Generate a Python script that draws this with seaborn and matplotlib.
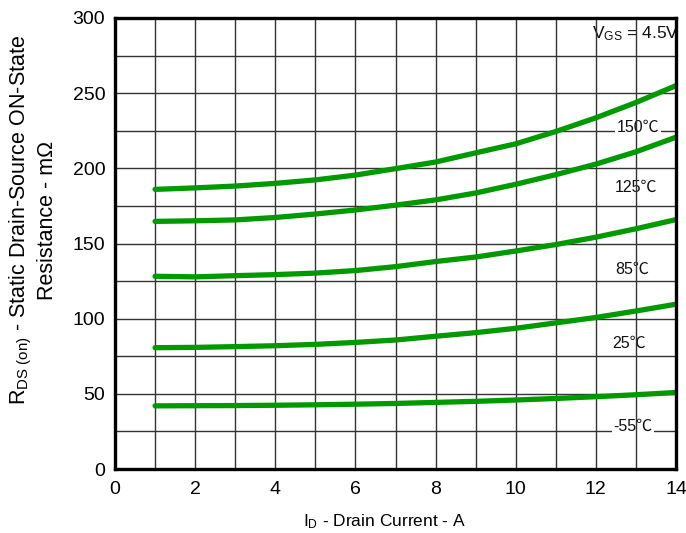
import matplotlib
matplotlib.use("Agg")
import matplotlib.pyplot as plt
import seaborn as sns
import pandas as pd
import numpy as np

# ---- data ----
drain_current = [1, 2, 3, 4, 5, 6, 7, 8, 9, 10, 11, 12, 13, 14]
r_150 = [186.0, 187.0, 188.2, 190.0, 192.3, 195.5, 199.8, 204.2, 210.3, 216.3, 224.5, 233.6, 243.8, 255.0]
r_125 = [164.7, 165.1, 165.7, 167.3, 169.6, 172.3, 175.5, 179.0, 183.6, 189.4, 195.8, 202.8, 211.0, 220.7]
r_85 = [128.2, 127.8, 128.6, 129.3, 130.3, 132.0, 134.6, 138.0, 141.0, 145.0, 149.3, 154.2, 159.8, 165.9]
r_25 = [80.7, 80.9, 81.4, 82.0, 82.9, 84.2, 85.8, 88.3, 90.7, 93.6, 97.2, 100.8, 105.1, 109.6]
r_m55 = [42.0, 42.1, 42.2, 42.4, 42.7, 43.1, 43.6, 44.3, 45.0, 45.9, 46.9, 48.1, 49.4, 50.9]
series_names = ["150℃", "125℃", "85℃", "25℃", "-55℃"]
label_x = [13.05, 13.0, 12.9, 12.83, 12.93]
label_y = [227.5, 187.4, 133.0, 83.6, 28.6]
x_ticks = [0, 2, 4, 6, 8, 10, 12, 14]
y_ticks = [0, 50, 100, 150, 200, 250, 300]

frames = []
for name, vals in zip(series_names, [r_150, r_125, r_85, r_25, r_m55]):
    frames.append(pd.DataFrame({"Id": drain_current, "R": vals, "T": name}))
df = pd.concat(frames, ignore_index=True)

sns.set_theme(style="white")
plt.rcParams["font.family"] = ["Liberation Sans", "Noto Sans CJK SC", "DejaVu Sans"]
plt.rcParams["mathtext.fontset"] = "custom"
plt.rcParams["mathtext.rm"] = "Liberation Sans"
plt.rcParams["mathtext.it"] = "Liberation Sans"

fig = plt.figure(figsize=(6.86, 5.33), dpi=100)
ax = fig.add_axes([115 / 686, 64 / 533, 561 / 686, 451 / 533])

green = "#009a00"
sns.lineplot(data=df, x="Id", y="R", hue="T", palette=[green] * 5,
             linewidth=3.8, legend=False, ax=ax, zorder=5, sort=True)

ax.set_xlim(0, 14)
ax.set_ylim(0, 300)
ax.set_xticks(x_ticks)
ax.set_yticks(y_ticks)
ax.tick_params(axis="both", labelsize=14, length=0, colors="black")
ax.tick_params(axis="x", pad=9)
ax.tick_params(axis="y", pad=7)

# horizontal grid (below labels), vertical grid (over label boxes)
for yv in np.arange(25, 300, 25):
    ax.axhline(yv, color="#333333", lw=1.0, zorder=1)
for xv in np.arange(1, 14, 1):
    ax.axvline(xv, color="#333333", lw=1.0, zorder=3)

for name, lx, ly in zip(series_names, label_x, label_y):
    ax.text(lx, ly, name, fontsize=11.5, ha="center", va="center", color="#111111",
            zorder=2, bbox=dict(facecolor="white", edgecolor="none", pad=1.0))

ax.text(12.98, 289.9, r"V$_{\rm GS}$ = 4.5V", fontsize=12.5, ha="center", va="center",
        color="#111111", zorder=2,
        bbox=dict(facecolor="white", edgecolor="none", pad=1.5))

ax.set_xlabel(r"I$_{\rm D}$ - Drain Current - A", fontsize=12.5, color="black", labelpad=10)
ax.xaxis.set_label_coords((384 - 115) / 561, -0.095)
ax.set_ylabel("R$_{\\rm DS\\ (on)}$ - Static Drain-Source ON-State\nResistance - mΩ",
              fontsize=15.5, color="black", labelpad=10, linespacing=1.2)
ax.yaxis.set_label_coords((58 - 115) / 561, (469 - 220) / 451)

for s in ax.spines.values():
    s.set_visible(True)
    s.set_color("black")
    s.set_linewidth(2.4)
    s.set_zorder(6)

fig.savefig("out.png", dpi=100)
